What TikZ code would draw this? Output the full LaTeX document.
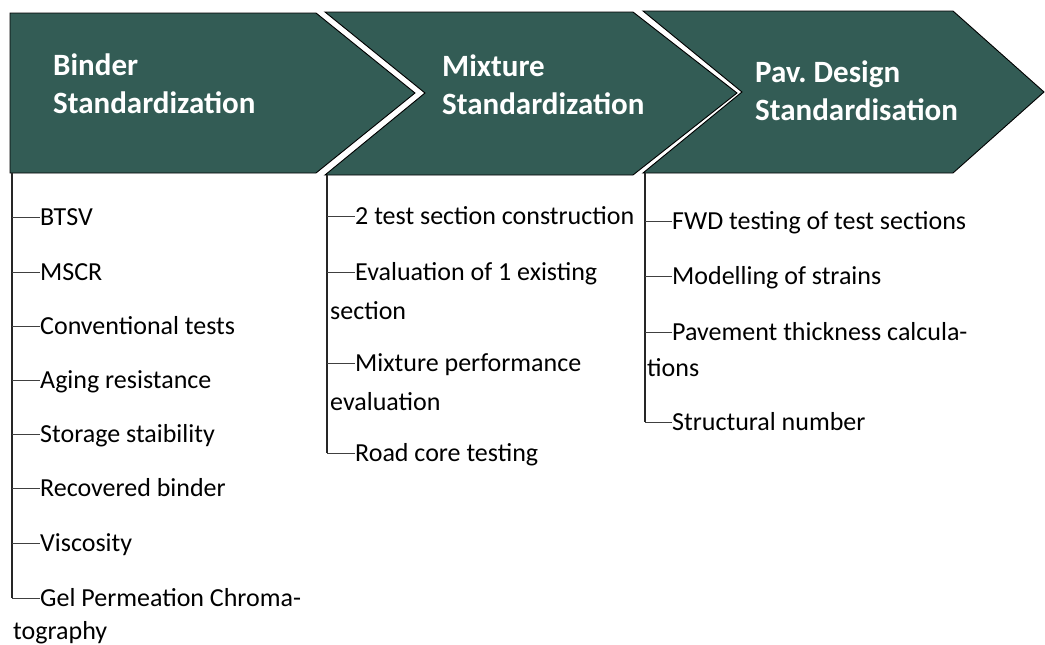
\documentclass[tikz,border=0pt]{standalone}
\usepackage{fontspec}
\setmainfont{Carlito}
\begin{document}
\frenchspacing
\definecolor{chevfill}{RGB}{51,92,85}
\begin{tikzpicture}[x=1pt,y=-1pt,
  chevron/.style={fill=chevfill,draw=black,line width=0.9pt,line join=miter},
  title/.style={anchor=base west,inner sep=0pt,text=white,
    font=\fontsize{31}{38}\selectfont\bfseries},
  item/.style={anchor=west,inner sep=0pt,text height=16.5pt,text depth=0pt,
    text=black,font=\fontsize{26}{30}\selectfont},
  trunk/.style={draw=black!85,line width=1.4pt},
  tick/.style={draw=black!75,line width=0.9pt}]
\useasboundingbox (0,0) rectangle (1045,645);

% process chevrons
\draw[chevron] (10,13) -- (316,13) -- (415,93) -- (316,173) -- (10,173) -- cycle;
\draw[chevron] (325,12) -- (633,12) -- (737,93) -- (633,175) -- (325,175) -- (425,93) -- cycle;
\draw[chevron] (643,11) -- (953,11) -- (1044,92) -- (953,173) -- (643,173) -- (742,92) -- cycle;

% stage titles
\node[title] (t1) at (53,75)  {\parbox[t]{250pt}{Binder\\Standardization}};
\node[title] (t2) at (442,76) {\parbox[t]{250pt}{Mixture\\Standardization}};
\node[title] (t3) at (755,82) {\parbox[t]{250pt}{Pav. Design\\Standardisation}};

% trunk start points under each chevron
\coordinate (tA) at (12,173);
\coordinate (tB) at (327,175);
\coordinate (tC) at (645,173);

% binder tasks
\node[item] (a1) at (40,217) {BTSV};
\node[item] (a2) at (40,272) {MSCR};
\node[item] (a3) at (40,326) {Conventional tests};
\node[item] (a4) at (40,380) {Aging resistance};
\node[item] (a5) at (40,434) {Storage staibility};
\node[item] (a6) at (40,488) {Recovered binder};
\node[item] (a7) at (40,543) {Viscosity};
\node[item] (a8) at (40,598) {\parbox[t]{330pt}{\fontsize{26}{33}\selectfont
  Gel Permeation Chroma-\\\hspace*{-27pt}tography}};

% mixture tasks
\node[item] (b1) at (355,216) {2 test section construction};
\node[item] (b2) at (355,272) {\parbox[t]{330pt}{\fontsize{26}{39}\selectfont
  Evaluation of 1 existing\\\hspace*{-25pt}section}};
\node[item] (b3) at (355,363) {\parbox[t]{330pt}{\fontsize{26}{39}\selectfont
  Mixture performance\\\hspace*{-25pt}evaluation}};
\node[item] (b4) at (355,453) {Road core testing};

% design tasks
\node[item] (c1) at (672,221) {FWD testing of test sections};
\node[item] (c2) at (672,276) {Modelling of strains};
\node[item] (c3) at (672,332) {\parbox[t]{330pt}{\fontsize{26}{36}\selectfont
  Pavement thickness calcula-\\\hspace*{-25pt}tions}};
\node[item] (c4) at (672,422) {Structural number};

% trunks
\draw[trunk] (tA) -- (tA |- a8.west);
\draw[trunk] (tB) -- (tB |- b4.west);
\draw[trunk] (tC) -- (tC |- c4.west);

% branches
\foreach \n in {a1,a2,a3,a4,a5,a6,a7,a8}
  \draw[tick] (tA |- \n.west) -- (\n.west);
\foreach \n in {b1,b2,b3,b4}
  \draw[tick] (tB |- \n.west) -- (\n.west);
\foreach \n in {c1,c2,c3,c4}
  \draw[tick] (tC |- \n.west) -- (\n.west);
\end{tikzpicture}
\end{document}
